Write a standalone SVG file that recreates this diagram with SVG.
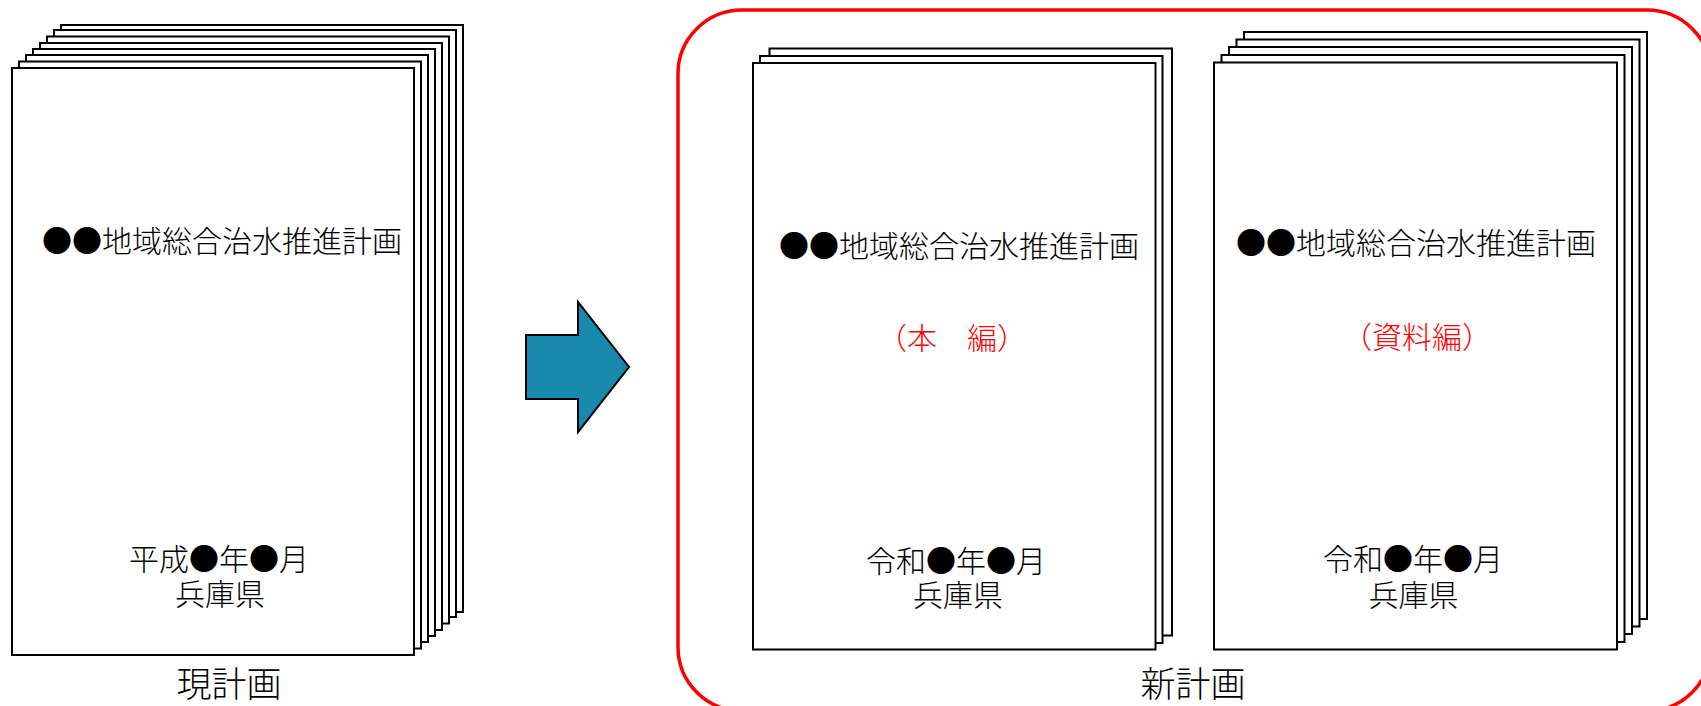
<svg xmlns="http://www.w3.org/2000/svg" width="1701" height="706" viewBox="0 0 1701 706">
<style>
.sheet{fill:#fff;stroke:#000;stroke-width:2}
.t{font-family:"Noto Sans CJK JP","Noto Sans CJK SC",sans-serif;font-weight:300;font-size:30px;fill:#000;text-anchor:middle}
.red{fill:#ff0000}
.lbl{font-size:35px}
</style>
<rect width="1701" height="706" fill="#fff"/>
<g id="new-plan-group">
<rect x="678" y="10" width="1033" height="701" rx="64" ry="64" fill="none" stroke="#ff0000" stroke-width="3.5"/>
<text class="t lbl" x="1193" y="697">新計画</text>
</g>
<g id="current-plan">
<rect class="sheet" x="61" y="25" width="402" height="587"/>
<rect class="sheet" x="54" y="30" width="402" height="587"/>
<rect class="sheet" x="47" y="36.5" width="402" height="587"/>
<rect class="sheet" x="40" y="43" width="402" height="587"/>
<rect class="sheet" x="33" y="49" width="402" height="587"/>
<rect class="sheet" x="26" y="55" width="402" height="587"/>
<rect class="sheet" x="19" y="61.5" width="402" height="587"/>
<rect class="sheet" x="12" y="68" width="402" height="587"/>
<text class="t" x="222" y="252">●●地域総合治水推進計画</text>
<text class="t" x="219" y="570">平成●年●月</text>
<text class="t" x="220" y="605">兵庫県</text>
<text class="t lbl" x="229" y="697">現計画</text>
</g>
<g id="connectors">
<polygon points="526,335 578,335 578,302 629,367 578,432 578,399 526,399" fill="#1689ad" stroke="#000" stroke-width="2" stroke-linejoin="miter"/>
</g>
<g id="main-volume">
<rect class="sheet" x="769.5" y="48.5" width="402.5" height="587"/>
<rect class="sheet" x="760" y="56" width="402.5" height="587"/>
<rect class="sheet" x="753" y="63" width="402.5" height="586.5"/>
<text class="t" x="959" y="257">●●地域総合治水推進計画</text>
<text class="t red" x="952" y="349">（本　編）</text>
<text class="t" x="956" y="572">令和●年●月</text>
<text class="t" x="958" y="606">兵庫県</text>
</g>
<g id="data-volume">
<rect class="sheet" x="1244" y="32" width="403" height="587"/>
<rect class="sheet" x="1236.5" y="39.5" width="403" height="587"/>
<rect class="sheet" x="1229" y="47" width="403" height="587"/>
<rect class="sheet" x="1221.5" y="55" width="403" height="587"/>
<rect class="sheet" x="1214" y="62.5" width="403" height="587"/>
<text class="t" x="1416" y="254">●●地域総合治水推進計画</text>
<text class="t red" x="1417" y="348">（資料編）</text>
<text class="t" x="1413" y="570">令和●年●月</text>
<text class="t" x="1413.5" y="606">兵庫県</text>
</g>
</svg>
